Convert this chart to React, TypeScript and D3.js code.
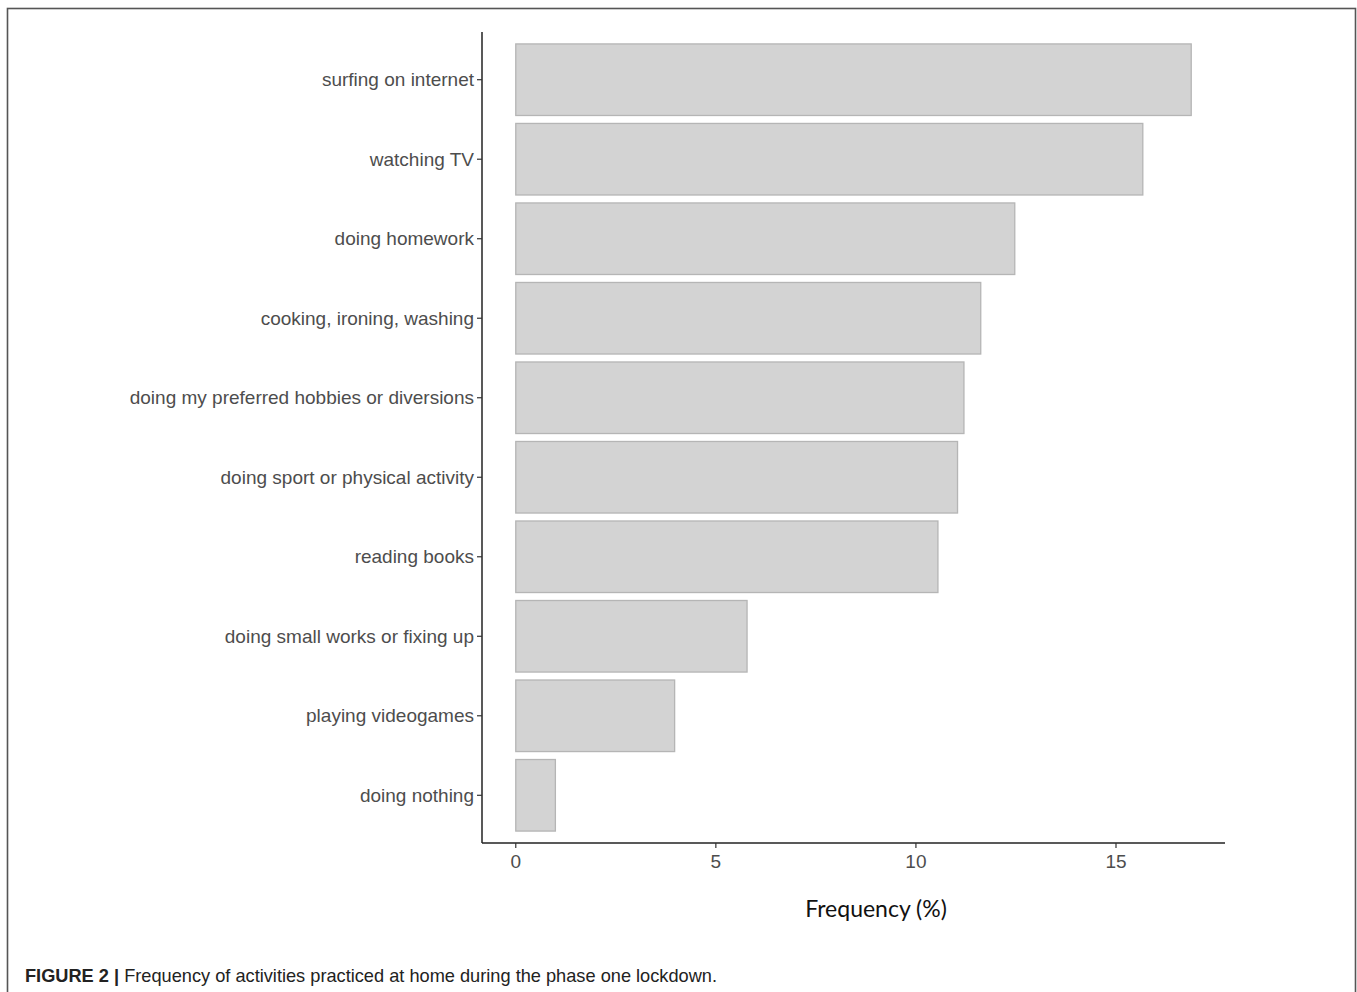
import React from "react";
import * as d3 from "d3";

const categories = [
  "surfing on internet",
  "watching TV",
  "doing homework",
  "cooking, ironing, washing",
  "doing my preferred hobbies or diversions",
  "doing sport or physical activity",
  "reading books",
  "doing small works or fixing up",
  "playing videogames",
  "doing nothing",
];
const frequencies = [16.88, 15.67, 12.47, 11.62, 11.2, 11.04, 10.55, 5.78, 3.97, 0.99];
const xTicks = [0, 5, 10, 15];
const xTitle = "Frequency (%)";
const captionBold = "FIGURE 2 |";
const captionText = " Frequency of activities practiced at home during the phase one lockdown.";

export default function App() {
  const W = 1357;
  const H = 992;
  const left = 482;
  const right = 1225;
  const top = 32;
  const bottom = 843;

  const maxV = d3.max(frequencies) as number;
  const x = d3
    .scaleLinear()
    .domain([-maxV * 0.05, maxV * 1.05])
    .range([left, right]);

  const n = categories.length;
  const unit = (bottom - top) / (n - 1 + 1.2);
  const y = d3
    .scalePoint<string>()
    .domain(categories)
    .range([top + 0.6 * unit, bottom - 0.6 * unit]);
  const barH = unit * 0.9;

  const labelColor = "#4d4d4d";

  return (
    <div style={{ position: "fixed", left: 0, top: 0 }}>
      <svg width={W} height={H} style={{ display: "block", background: "#fff" }}>
        <rect x={7.5} y={8.5} width={1348} height={1000} fill="#fff" stroke="#555" strokeWidth={1.6} />
        {categories.map((c, i) => (
          <rect
            key={c}
            x={x(0)}
            y={(y(c) as number) - barH / 2}
            width={x(frequencies[i]) - x(0)}
            height={barH}
            fill="#d3d3d3"
            stroke="#b5b5b5"
            strokeWidth={1.3}
          />
        ))}
        {/* y axis */}
        <line x1={left} x2={left} y1={top} y2={bottom} stroke="#222" strokeWidth={1.5} />
        {categories.map((c) => (
          <g key={"yt" + c} transform={`translate(0,${y(c)})`}>
            <line x1={left - 5} x2={left} y1={0} y2={0} stroke="#333" strokeWidth={1.2} />
            <text
              x={left - 8}
              y={0}
              dy="0.35em"
              textAnchor="end"
              fontFamily="'Liberation Sans', Arial, sans-serif"
              fontSize={19}
              fill={labelColor}
            >
              {c}
            </text>
          </g>
        ))}
        {/* x axis */}
        <line x1={left} x2={right} y1={bottom} y2={bottom} stroke="#222" strokeWidth={1.5} />
        {xTicks.map((t) => (
          <g key={"xt" + t} transform={`translate(${x(t)},${bottom})`}>
            <line y1={0} y2={5} stroke="#333" strokeWidth={1.2} />
            <text
              y={18}
              dy="0.35em"
              textAnchor="middle"
              fontFamily="'Liberation Sans', Arial, sans-serif"
              fontSize={19}
              fill={labelColor}
            >
              {t}
            </text>
          </g>
        ))}
        <text
          x={876}
          y={909}
          dy="0.35em"
          textAnchor="middle"
          fontFamily="Lato, 'Open Sans', sans-serif"
          fontSize={23}
          fill="#111"
        >
          {xTitle}
        </text>
        <text
          x={25}
          y={982}
          fontFamily="'Liberation Sans', Arial, sans-serif"
          fontSize={19}
          fill="#222"
          textLength={692}
          lengthAdjust="spacingAndGlyphs"
        >
          <tspan fontWeight="bold">{captionBold}</tspan>
          <tspan>{captionText}</tspan>
        </text>
      </svg>
    </div>
  );
}
